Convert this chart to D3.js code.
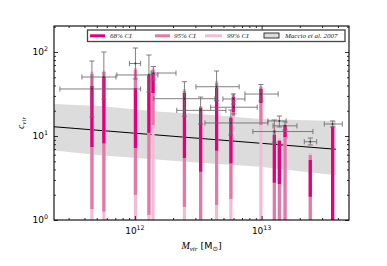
<!DOCTYPE html>
<html>
<head>
<meta charset="utf-8">
<script src="https://cdn.jsdelivr.net/npm/d3@7"></script>
<style>
    body { margin: 0; background: #fff; }
    svg { display: block; }
</style>
</head>
<body>
<svg id="chart" width="387" height="266"></svg>
<script>
// Axis ticks
var massTicksMajor = [1e12, 1e13];
var concTicksMajor = [1, 10, 100];

// This work: credible intervals on c_vir for each halo
var haloMass = [4.58e11, 5.69e11, 1.01e12, 1.29e12, 1.39e12, 2.46e12, 3.30e12, 4.41e12,
                5.72e12, 5.99e12, 9.87e12, 1.26e13, 1.38e13, 1.53e13, 2.42e13, 3.63e13];
var ci99Lo = [0.8, 0.8, 0.8, 0.8, 0.8, 0.8, 0.8, 0.8, 0.8, 16.4, 0.8, 0.8, 0.8, 0.8, 0.8, 0.8];
var ci99Hi = [58.3, 59.9, 64.5, 55.7, 64.0, 36.3, 22.8, 45.5, 17.3, 32.5, 39.4, 12.5, 9.47, 13.9, 6.28, 13.3];
var ci95Lo = [1.35, 1.26, 1.99, 1.15, 13.5, 1.43, 1.01, 1.51, 1.78, 17.3, 13.5, 0.9, 0.9, 0.9, 0.9, 0.9];
var ci95Hi = [54.7, 57.8, 61.1, 54.0, 61.1, 34.3, 22.1, 42.7, 16.8, 30.8, 37.8, 11.8, 8.96, 13.7, 5.94, 13.2];
var ci68Lo = [7.40, 8.19, 7.20, 10.9, 32.5, 5.47, 3.76, 6.68, 4.73, 19.3, 24.7, 2.78, 2.68, 9.73, 1.89, 0.8];
var ci68Hi = [39.4, 50.4, 37.3, 52.2, 56.2, 32.5, 21.5, 37.3, 16.4, 29.1, 36.3, 10.3, 8.72, 13.5, 5.18, 12.9];

// Published estimates (gray error bars)
var litMass   = [4.58e11, 5.69e11, 1.01e12, 1.29e12, 1.40e12, 2.46e12, 3.30e12, 4.41e12,
                 5.72e12, 5.99e12, 6.04e12, 9.87e12, 1.26e13, 1.38e13, 1.53e13, 2.42e13, 3.63e13];
var litMassLo = [2.56e11, 3.82e11, 9.05e11, 7.21e11, 1.34e12, 1.41e12, 2.14e12, 3.03e12,
                 3.57e12, 4.95e12, 3.96e12, 7.38e12, 8.53e12, 1.12e13, 1.23e13, 2.17e13, 3.12e13];
var litMassHi = [1.11e12, 7.08e11, 1.11e12, 1.52e12, 2.11e12, 4.28e12, 5.23e12, 6.65e12,
                 1.12e13, 7.38e12, 9.23e12, 1.35e13, 2.54e13, 1.56e13, 1.90e13, 2.72e13, 4.33e13];
var litConc   = [36.3, 50.4, 73.0, 53.3, 56.2, 27.8, 20.2, 38.6, 14.3, 27.6, 22.0, 31.6, 11.3, 15.1, 13.2, 8.55, 13.9];
var litConcLo = [16.8, 27.6, 47.7, 33.4, 46.4, 17.2, 13.9, 26.3, 10.3, 24.0, 18.3, 26.1, 8.26, 12.8, 11.8, 7.81, 12.8];
var litConcHi = [78.1, 100, 111.6, 92.1, 67.2, 44.3, 29.1, 59.4, 20.4, 31.6, 26.1, 41.0, 15.5, 17.3, 14.7, 9.47, 15.1];

// Maccio et al. 2007 relation and its scatter
var maccioMass = [2.30e11, 5.30e11, 1.57e12, 3.26e12, 9.70e12, 3.85e13];
var maccioLo   = [6.7, 5.9, 5.2, 4.8, 4.3, 3.4];
var maccioHi   = [24.0, 22.8, 19.5, 18.3, 15.9, 15.1];
var maccioLineMass = [2.30e11, 3.85e13];
var maccioLineConc = [12.9, 6.95];

var colors = { ci68: '#e2007f', ci95: '#e279aa', ci99: '#f1bcd4', band: '#dcdcdc', lit: '#6a6a6a' };

var svg = d3.select('#chart');
var plotL = 54, plotR = 349, plotT = 26, plotB = 220;

var x = d3.scaleLog().domain([2.30e11, 4.89e13]).range([plotL, plotR]);
var y = d3.scaleLog().domain([1, 204]).range([plotB, plotT]);

svg.append('defs').append('clipPath').attr('id', 'plotClip')
    .append('rect')
        .attr('x', plotL).attr('y', plotT)
        .attr('width', plotR - plotL).attr('height', plotB - plotT);

var plot = svg.append('g').attr('clip-path', 'url(#plotClip)');

// Scatter band
var bandRows = maccioMass.map(function(m, i) { return { m: m, lo: maccioLo[i], hi: maccioHi[i] }; });
plot.append('path')
    .datum(bandRows)
    .attr('d', d3.area()
        .x(function(d) { return x(d.m); })
        .y0(function(d) { return y(d.lo); })
        .y1(function(d) { return y(d.hi); }))
    .attr('fill', colors.band);

// Median relation
plot.append('path')
    .datum(maccioLineMass.map(function(m, i) { return { m: m, c: maccioLineConc[i] }; }))
    .attr('d', d3.line().x(function(d) { return x(d.m); }).y(function(d) { return y(d.c); }))
    .attr('fill', 'none')
    .attr('stroke', '#000')
    .attr('stroke-width', 1.1);

// Credible interval bars, widest first
var levels = [
    { lo: ci99Lo, hi: ci99Hi, color: colors.ci99 },
    { lo: ci95Lo, hi: ci95Hi, color: colors.ci95 },
    { lo: ci68Lo, hi: ci68Hi, color: colors.ci68 }
];
levels.forEach(function(lv) {
    plot.append('g').selectAll('line')
        .data(haloMass)
        .enter()
        .append('line')
            .attr('x1', function(d) { return x(d); })
            .attr('x2', function(d) { return x(d); })
            .attr('y1', function(d, i) { return y(lv.lo[i]); })
            .attr('y2', function(d, i) { return y(lv.hi[i]); })
            .attr('stroke', lv.color)
            .attr('stroke-width', 3.2);
});

// Published error bars
var litRows = litMass.map(function(m, i) {
    return { m: m, mLo: litMassLo[i], mHi: litMassHi[i], c: litConc[i], cLo: litConcLo[i], cHi: litConcHi[i] };
});
var cap = 2.6;
var eb = plot.append('g')
    .attr('stroke', colors.lit)
    .attr('stroke-width', 1)
    .attr('stroke-opacity', 0.85)
    .selectAll('g')
    .data(litRows)
    .enter()
    .append('g');
eb.append('line')
    .attr('x1', function(d) { return x(d.mLo); }).attr('x2', function(d) { return x(d.mHi); })
    .attr('y1', function(d) { return y(d.c); }).attr('y2', function(d) { return y(d.c); });
eb.append('line')
    .attr('x1', function(d) { return x(d.m); }).attr('x2', function(d) { return x(d.m); })
    .attr('y1', function(d) { return y(d.cLo); }).attr('y2', function(d) { return y(d.cHi); });
['mLo', 'mHi'].forEach(function(k) {
    eb.append('line')
        .attr('x1', function(d) { return x(d[k]); }).attr('x2', function(d) { return x(d[k]); })
        .attr('y1', function(d) { return y(d.c) - cap; }).attr('y2', function(d) { return y(d.c) + cap; });
});
['cLo', 'cHi'].forEach(function(k) {
    eb.append('line')
        .attr('x1', function(d) { return x(d.m) - cap; }).attr('x2', function(d) { return x(d.m) + cap; })
        .attr('y1', function(d) { return y(d[k]); }).attr('y2', function(d) { return y(d[k]); });
});
eb.append('circle')
    .attr('cx', function(d) { return x(d.m); })
    .attr('cy', function(d) { return y(d.c); })
    .attr('r', 0.9)
    .attr('fill', '#333')
    .attr('stroke', 'none');

// Axes: inward ticks on all four sides, major + minor
function isDecade(t) { var l = Math.log10(t); return Math.abs(l - Math.round(l)) < 1e-6; }
var xMinor = x.ticks().filter(function(t) { return !isDecade(t); });
var yMinor = y.ticks().filter(function(t) { return !isDecade(t); });

function addAxis(axisFn, scale, ticks, size, tx, ty) {
    var g = svg.append('g')
        .attr('transform', 'translate(' + tx + ',' + ty + ')')
        .call(axisFn(scale).tickValues(ticks).tickSize(-size).tickFormat(''));
    g.select('.domain').remove();
    g.selectAll('line').attr('stroke-width', 0.8);
}
addAxis(d3.axisBottom, x, massTicksMajor, 4, 0, plotB);
addAxis(d3.axisBottom, x, xMinor, 2, 0, plotB);
addAxis(d3.axisTop, x, massTicksMajor, 4, 0, plotT);
addAxis(d3.axisTop, x, xMinor, 2, 0, plotT);
addAxis(d3.axisLeft, y, concTicksMajor, 4, plotL, 0);
addAxis(d3.axisLeft, y, yMinor, 2, plotL, 0);
addAxis(d3.axisRight, y, concTicksMajor, 4, plotR, 0);
addAxis(d3.axisRight, y, yMinor, 2, plotR, 0);

svg.append('rect')
    .attr('x', plotL).attr('y', plotT)
    .attr('width', plotR - plotL).attr('height', plotB - plotT)
    .attr('fill', 'none')
    .attr('stroke', '#000')
    .attr('stroke-width', 1.1);

// Tick labels as 10^n
var sans = 'DejaVu Sans, sans-serif';
function powerLabel(sel) {
    sel.append('tspan').text('10');
    sel.append('tspan')
        .attr('dy', -4)
        .attr('font-size', 6.3)
        .text(function(d) { return Math.round(Math.log10(d)); });
}
svg.append('g').selectAll('text')
    .data(massTicksMajor)
    .enter()
    .append('text')
        .attr('x', function(d) { return x(d); })
        .attr('y', 233.5)
        .attr('text-anchor', 'middle')
        .attr('font-family', sans)
        .attr('font-size', 9)
        .call(powerLabel);
svg.append('g').selectAll('text')
    .data(concTicksMajor)
    .enter()
    .append('text')
        .attr('x', 48)
        .attr('y', function(d) { return y(d) + 3.4; })
        .attr('text-anchor', 'end')
        .attr('font-family', sans)
        .attr('font-size', 9)
        .call(powerLabel);

// Axis titles
var serif = 'Liberation Serif, serif';
var xt = svg.append('text')
    .attr('x', (plotL + plotR) / 2)
    .attr('y', 248.5)
    .attr('text-anchor', 'middle')
    .attr('font-size', 10);
xt.append('tspan').attr('font-family', serif).attr('font-style', 'italic').text('M');
xt.append('tspan').attr('font-family', serif).attr('font-style', 'italic')
    .attr('font-size', 7).attr('dy', 2).text('vir');
xt.append('tspan').attr('font-family', sans).attr('font-size', 9.5).attr('dy', -2).text(' [M');
xt.append('tspan').attr('font-family', sans).attr('font-size', 6.5).attr('dy', 2).text('\u2299');
xt.append('tspan').attr('font-family', sans).attr('font-size', 9.5).attr('dy', -2).text(']');

var yt = svg.append('text')
    .attr('transform', 'translate(23.5,' + ((plotT + plotB) / 2) + ') rotate(-90)')
    .attr('text-anchor', 'middle')
    .attr('font-family', serif)
    .attr('font-style', 'italic')
    .attr('font-size', 10);
yt.append('tspan').text('c');
yt.append('tspan').attr('font-size', 7).attr('dy', 2).text('vir');

// Legend
var legend = svg.append('g');
legend.append('rect')
    .attr('x', 87.5).attr('y', 30)
    .attr('width', 257.5).attr('height', 11.5)
    .attr('fill', '#fff')
    .attr('stroke', '#444')
    .attr('stroke-width', 1.3);
var legendItems = [
    { label: '68% CI', color: colors.ci68, x0: 90, x1: 105, tx: 110 },
    { label: '95% CI', color: colors.ci95, x0: 155, x1: 170, tx: 174 },
    { label: '99% CI', color: colors.ci99, x0: 205, x1: 222, tx: 227 }
];
legendItems.forEach(function(it) {
    legend.append('line')
        .attr('x1', it.x0).attr('x2', it.x1)
        .attr('y1', 35.8).attr('y2', 35.8)
        .attr('stroke', it.color)
        .attr('stroke-width', 3);
    legend.append('text')
        .attr('x', it.tx).attr('y', 38.2)
        .attr('font-family', serif)
        .attr('font-style', 'italic')
        .attr('font-size', 7)
        .attr('fill', '#222')
        .text(it.label);
});
legend.append('rect')
    .attr('x', 264).attr('y', 33)
    .attr('width', 15).attr('height', 5)
    .attr('fill', colors.band)
    .attr('stroke', '#222')
    .attr('stroke-width', 0.9);
legend.append('text')
    .attr('x', 285).attr('y', 38.2)
    .attr('font-family', serif)
    .attr('font-style', 'italic')
    .attr('font-size', 7)
    .attr('fill', '#222')
    .text('Maccio et al. 2007');
</script>
</body>
</html>
